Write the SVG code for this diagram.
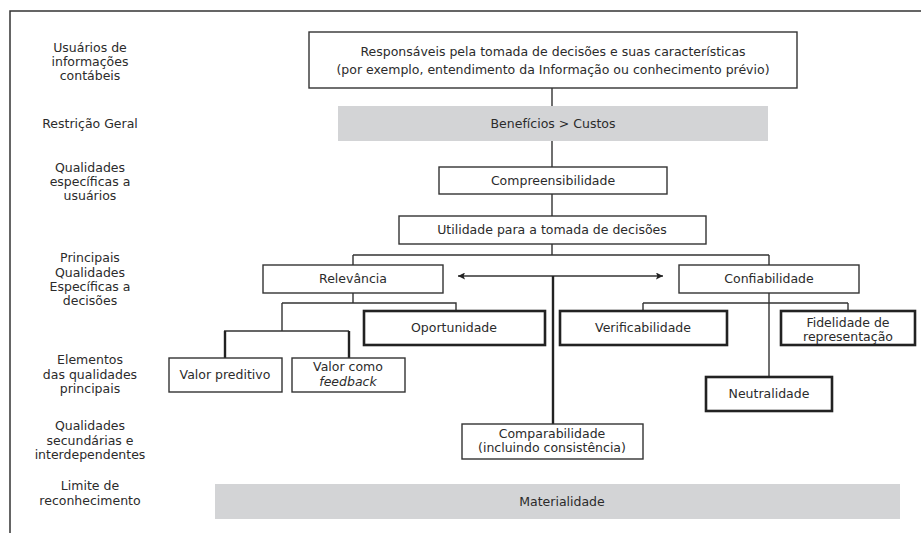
<svg xmlns="http://www.w3.org/2000/svg" width="921" height="533" viewBox="0 0 921 533">
<style>
text{font-family:"DejaVu Sans","Liberation Sans",sans-serif;font-size:12.5px;fill:#2b2b2b;text-anchor:middle}
.box{fill:#fff;stroke:#333;stroke-width:1.4}
.thick{fill:#fff;stroke:#222;stroke-width:2.6}
.gray{fill:#d3d4d6;stroke:none}
.ln{fill:none;stroke:#333;stroke-width:1.4}
.tk{fill:none;stroke:#222;stroke-width:2.4}
</style>
<defs>
<marker id="ah" viewBox="0 0 10 10" refX="10" refY="5" markerWidth="10" markerHeight="7" markerUnits="userSpaceOnUse" orient="auto-start-reverse">
<path d="M0,0 L10,5 L0,10 L2,5 Z" fill="#222"/>
</marker>
</defs>
<rect width="921" height="533" fill="#fff"/>
<path d="M10,533 V11 H921" fill="none" stroke="#333" stroke-width="1.5"/>
<g id="labels">
<text x="90" y="52">Usuários de</text>
<text x="90" y="66">informações</text>
<text x="90" y="80">contábeis</text>
<text x="90" y="128">Restrição Geral</text>
<text x="90" y="172">Qualidades</text>
<text x="90" y="186">específicas a</text>
<text x="90" y="200">usuários</text>
<text x="90" y="262">Principais</text>
<text x="90" y="277">Qualidades</text>
<text x="90" y="291">Específicas a</text>
<text x="90" y="305">decisões</text>
<text x="90" y="364">Elementos</text>
<text x="90" y="379">das qualidades</text>
<text x="90" y="393">principais</text>
<text x="90" y="430">Qualidades</text>
<text x="90" y="445">secundárias e</text>
<text x="90" y="459">interdependentes</text>
<text x="90" y="490">Limite de</text>
<text x="90" y="505">reconhecimento</text>
</g>
<g id="connectors">
<path class="ln" d="M552,88 V106 M552,141 V167 M552,194 V216 M552,244 V255 M353,255 H769 M353,255 V265 M769,255 V265"/>
<line class="ln" x1="458" y1="276" x2="663" y2="276" marker-start="url(#ah)" marker-end="url(#ah)"/>
<path class="tk" d="M553,276 V424"/>
<path class="ln" d="M353,293 V303 M282,303 H456 V311 M282,303 V331 M224,331 H349"/>
<path class="tk" d="M225,331 V358 M349,331 V358"/>
<path class="ln" d="M769,293 V377 M643,303 H848 M643,303 V311 M848,303 V311"/>
</g>
<g id="n-responsaveis">
<rect class="box" x="309" y="32" width="488" height="56"/>
<text x="553" y="56">Responsáveis pela tomada de decisões e suas características</text>
<text x="553" y="74">(por exemplo, entendimento da Informação ou conhecimento prévio)</text>
</g>
<g id="n-beneficios">
<rect class="gray" x="338" y="106" width="430" height="35"/>
<text x="553" y="128">Benefícios &gt; Custos</text>
</g>
<g id="n-compreensibilidade">
<rect class="box" x="439" y="167" width="228" height="27"/>
<text x="553" y="185">Compreensibilidade</text>
</g>
<g id="n-utilidade">
<rect class="box" x="399" y="216" width="307" height="28"/>
<text x="552" y="234">Utilidade para a tomada de decisões</text>
</g>
<g id="n-relevancia">
<rect class="box" x="263" y="265" width="180" height="28"/>
<text x="353" y="283">Relevância</text>
</g>
<g id="n-confiabilidade">
<rect class="box" x="679" y="265" width="180" height="28"/>
<text x="769" y="283">Confiabilidade</text>
</g>
<g id="n-oportunidade">
<rect class="thick" x="364" y="311" width="181" height="34"/>
<text x="454" y="332">Oportunidade</text>
</g>
<g id="n-verificabilidade">
<rect class="thick" x="560" y="311" width="167" height="34"/>
<text x="643" y="332">Verificabilidade</text>
</g>
<g id="n-fidelidade">
<rect class="thick" x="781" y="311" width="134" height="34"/>
<text x="848" y="327">Fidelidade de</text>
<text x="848" y="341">representação</text>
</g>
<g id="n-neutralidade">
<rect class="thick" x="706" y="377" width="126" height="34"/>
<text x="769" y="398">Neutralidade</text>
</g>
<g id="n-valor-preditivo">
<rect class="box" x="169" y="358" width="113" height="34"/>
<text x="225" y="379">Valor preditivo</text>
</g>
<g id="n-valor-feedback">
<rect class="box" x="292" y="358" width="113" height="34"/>
<text x="348" y="371">Valor como</text>
<text x="348" y="386" font-style="italic">feedback</text>
</g>
<g id="n-comparabilidade">
<rect class="box" x="462" y="424" width="181" height="35"/>
<text x="552" y="438">Comparabilidade</text>
<text x="552" y="452">(incluindo consistência)</text>
</g>
<g id="n-materialidade">
<rect class="gray" x="215" y="484" width="685" height="35"/>
<text x="562" y="506">Materialidade</text>
</g>
</svg>
